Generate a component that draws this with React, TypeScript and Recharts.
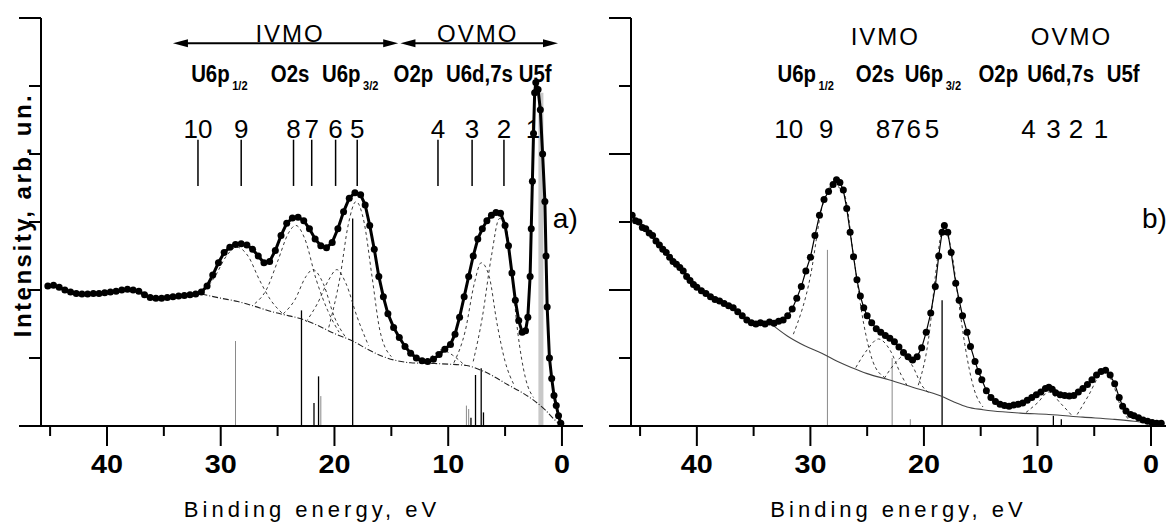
import React from 'react';
import { ComposedChart, Line, XAxis, YAxis, ReferenceLine, ReferenceDot } from 'recharts';

const FONT = '"Liberation Sans", Arial, sans-serif';

// axis ticks: binding energy (eV) and intensity (arb. un.)
const xTicks = [0, 5, 10, 15, 20, 25, 30, 35, 40, 45];
const yTicks = [0, 1, 2, 3, 4, 5, 6];

// text rows shared by both panels
const groupNames = ['IVMO', 'OVMO'];
const orbitals = [
  { main: 'U6p', sub: '1/2' },
  { main: 'O2s' },
  { main: 'U6p', sub: '3/2' },
  { main: 'O2p' },
  { main: 'U6d,7s' },
  { main: 'U5f' },
];
const peakNumbers = ['10', '9', '8', '7', '6', '5', '4', '3', '2', '1'];

// ---- panel a) ----
const groupPosA = [23.9, 7.4];
const arrowSpansA = [[34.2, 14.4], [14.2, 0.35]];
const orbitalPosA = [32.6, 25.6, 21.1, 14.8, 10.2, 3.8];
const peakPosA = [32.0, 28.2, 23.6, 22.0, 19.9, 18.0, 10.9, 7.9, 5.1, 2.55];

// [binding energy, intensity]
const spectrumA = [
  [45.2, 2.06], [44.7, 2.07], [44.2, 2.04], [43.7, 2.0], [43.2, 1.97], [42.7, 1.95],
  [42.2, 1.94], [41.7, 1.94], [41.2, 1.95], [40.7, 1.95], [40.2, 1.96], [39.7, 1.97],
  [39.2, 1.98], [38.7, 2.0], [38.2, 2.01], [37.7, 2.0], [37.2, 1.98], [36.7, 1.93],
  [36.2, 1.89], [35.7, 1.88], [35.2, 1.88], [34.7, 1.89], [34.2, 1.9], [33.7, 1.91],
  [33.2, 1.92], [32.7, 1.93], [32.2, 1.94], [31.7, 1.97], [31.2, 2.06], [30.7, 2.22],
  [30.2, 2.4], [29.7, 2.55], [29.2, 2.63], [28.7, 2.67], [28.2, 2.68], [27.7, 2.66],
  [27.2, 2.6], [26.7, 2.5], [26.2, 2.4], [25.7, 2.42], [25.2, 2.58], [24.7, 2.8],
  [24.2, 2.98], [23.7, 3.06], [23.2, 3.07], [22.7, 3.02], [22.2, 2.9], [21.7, 2.75],
  [21.2, 2.65], [20.7, 2.62], [20.2, 2.7], [19.7, 2.9], [19.2, 3.15], [18.7, 3.35],
  [18.2, 3.43], [17.7, 3.4], [17.3, 3.25], [16.9, 2.95], [16.5, 2.6], [16.1, 2.2],
  [15.7, 1.9], [15.3, 1.65], [14.8, 1.45], [14.3, 1.3], [13.8, 1.17], [13.3, 1.07],
  [12.8, 1.0], [12.3, 0.96], [11.8, 0.95], [11.3, 0.98], [10.8, 1.05], [10.3, 1.13],
  [9.8, 1.2], [9.4, 1.35], [9.0, 1.6], [8.6, 1.9], [8.2, 2.2], [7.8, 2.5], [7.4, 2.75],
  [7.0, 2.9], [6.6, 3.02], [6.2, 3.1], [5.8, 3.14], [5.4, 3.13], [5.0, 2.95], [4.7, 2.65],
  [4.4, 2.25], [4.1, 1.85], [3.8, 1.55], [3.5, 1.38], [3.2, 1.4], [3.0, 1.6], [2.8, 2.2],
  [2.7, 2.9], [2.6, 3.6], [2.5, 4.3], [2.4, 4.9], [2.3, 5.05], [2.1, 4.95], [1.9, 4.65],
  [1.7, 4.0], [1.5, 3.3], [1.4, 2.5], [1.3, 1.75], [1.1, 1.0], [0.9, 0.7], [0.7, 0.45],
  [0.5, 0.3], [0.3, 0.15], [0.1, 0.04],
];

const backgroundA = [
  [31.7, 1.94], [30.0, 1.88], [28.5, 1.83], [27.0, 1.76], [25.5, 1.68], [24.0, 1.62],
  [23.0, 1.58], [21.5, 1.48], [20.0, 1.36], [18.4, 1.25], [17.0, 1.12], [15.7, 1.02],
  [14.5, 0.96], [13.3, 0.93], [11.5, 0.92], [10.0, 0.91], [8.4, 0.89], [7.1, 0.82],
  [6.0, 0.73], [4.8, 0.61], [3.5, 0.49], [2.5, 0.38], [1.5, 0.24], [0.7, 0.1], [0.2, 0.03],
];

const fitA9 = [[31.7, 1.94], [30.5, 2.2], [29.5, 2.5], [28.6, 2.63], [27.6, 2.5], [26.6, 2.15], [25.6, 1.85], [24.6, 1.66]];
const fitA8 = [[27.0, 1.8], [26.0, 2.0], [25.0, 2.42], [24.0, 2.85], [23.4, 2.95], [22.6, 2.75], [21.6, 2.15], [20.6, 1.7], [19.6, 1.38]];
const fitA7 = [[24.5, 1.65], [23.5, 1.85], [22.5, 2.2], [21.9, 2.3], [21.0, 2.1], [20.0, 1.6], [19.0, 1.3]];
const fitA6 = [[22.5, 1.53], [21.5, 1.8], [20.5, 2.15], [19.8, 2.3], [19.0, 2.1], [18.0, 1.6], [17.0, 1.18]];
const fitA5 = [[20.5, 1.45], [19.5, 2.2], [18.8, 2.95], [18.1, 3.3], [17.4, 3.0], [16.7, 2.2], [16.0, 1.4], [15.0, 1.02]];
const fitA4 = [[12.5, 0.93], [11.5, 1.02], [10.6, 1.12], [9.6, 1.04], [8.6, 0.9]];
const fitA3 = [[9.5, 0.93], [8.5, 1.4], [7.7, 2.1], [7.1, 2.4], [6.4, 2.2], [5.7, 1.5], [5.0, 0.95], [4.2, 0.6]];
const fitA2 = [[7.8, 0.95], [7.0, 1.6], [6.2, 2.5], [5.5, 3.05], [5.0, 3.0], [4.5, 2.4], [3.9, 1.4], [3.2, 0.7], [2.5, 0.42]];
const fitsA = [fitA9, fitA8, fitA7, fitA6, fitA5, fitA4, fitA3, fitA2];

// calculated line spectrum: [energy, height]
const sticksA = [[22.9, 1.7], [21.8, 0.34], [21.4, 0.73], [18.4, 3.05], [8.0, 0.12], [7.6, 0.75], [7.1, 0.85], [6.9, 0.2]];
const greySticksA = [[28.7, 1.25], [21.2, 0.44], [8.4, 0.3], [8.2, 0.25]];
const bandA = [[1.85, 4.9]];

// ---- panel b) ----
const groupPosB = [23.4, 7.0];
const orbitalPosB = [32.9, 26.0, 21.7, 15.2, 10.9, 3.9];
const peakPosB = [31.9, 28.6, 23.6, 22.3, 20.9, 19.3, 10.8, 8.6, 6.6, 4.4];

const spectrumB = [
  [45.7, 3.1], [45.4, 3.02], [45.1, 3.0], [44.8, 2.92], [44.5, 2.9], [44.2, 2.84],
  [43.9, 2.8], [43.6, 2.72], [43.3, 2.66], [43.0, 2.6], [42.7, 2.55], [42.4, 2.48],
  [42.1, 2.42], [41.8, 2.38], [41.5, 2.33], [41.2, 2.28], [40.9, 2.2], [40.6, 2.14],
  [40.3, 2.08], [40.0, 2.04], [39.6, 1.99], [39.2, 1.95], [38.8, 1.9], [38.4, 1.86],
  [38.0, 1.84], [37.6, 1.8], [37.2, 1.77], [36.8, 1.74], [36.4, 1.68], [36.0, 1.62],
  [35.6, 1.56], [35.2, 1.52], [34.8, 1.5], [34.4, 1.52], [34.0, 1.5], [33.6, 1.53],
  [33.2, 1.51], [32.8, 1.54], [32.4, 1.56], [32.0, 1.62], [31.6, 1.72], [31.2, 1.88],
  [30.8, 2.05], [30.4, 2.28], [30.0, 2.48], [29.6, 2.8], [29.2, 3.1], [28.8, 3.33],
  [28.4, 3.45], [28.0, 3.55], [27.7, 3.62], [27.4, 3.58], [27.1, 3.47], [26.8, 3.2],
  [26.5, 2.85], [26.2, 2.49], [25.9, 2.15], [25.6, 1.91], [25.3, 1.74], [25.0, 1.62],
  [24.6, 1.52], [24.2, 1.43], [23.8, 1.38], [23.4, 1.33], [23.0, 1.29], [22.6, 1.24],
  [22.2, 1.16], [21.8, 1.08], [21.4, 1.02], [21.0, 0.97], [20.6, 1.02], [20.2, 1.15],
  [19.8, 1.38], [19.4, 1.66], [19.0, 2.05], [18.7, 2.5], [18.4, 2.85], [18.2, 2.95],
  [17.9, 2.85], [17.6, 2.55], [17.2, 2.1], [16.9, 1.85], [16.6, 1.62], [16.2, 1.38],
  [15.9, 1.17], [15.5, 0.95], [15.2, 0.8], [14.9, 0.68], [14.5, 0.52], [14.1, 0.42],
  [13.7, 0.36], [13.3, 0.32], [12.9, 0.3], [12.5, 0.29], [12.1, 0.31], [11.7, 0.32],
  [11.3, 0.34], [10.9, 0.38], [10.5, 0.42], [10.1, 0.46], [9.7, 0.5], [9.3, 0.55],
  [9.0, 0.57], [8.7, 0.54], [8.4, 0.49], [8.0, 0.46], [7.6, 0.45], [7.2, 0.44],
  [6.8, 0.45], [6.4, 0.5], [6.0, 0.55], [5.6, 0.61], [5.2, 0.68], [4.8, 0.75],
  [4.4, 0.8], [4.0, 0.82], [3.6, 0.75], [3.2, 0.62], [2.8, 0.42], [2.5, 0.29],
  [2.2, 0.22], [1.8, 0.17], [1.5, 0.15], [1.1, 0.12], [0.7, 0.09], [0.3, 0.07],
  [-0.1, 0.05], [-0.5, 0.04], [-0.9, 0.04],
];

const backgroundB = [
  [33.6, 1.52], [32.0, 1.32], [30.5, 1.18], [29.0, 1.07], [27.5, 0.94], [26.4, 0.86],
  [25.0, 0.77], [23.1, 0.68], [21.0, 0.57], [18.5, 0.44], [17.3, 0.35], [16.2, 0.28],
  [14.8, 0.24], [13.9, 0.22], [11.5, 0.19], [9.0, 0.17], [6.0, 0.13], [3.4, 0.1],
  [1.5, 0.07], [0.2, 0.04],
];

const fitB9 = [[31.5, 1.35], [30.0, 2.2], [29.0, 3.2], [28.0, 3.55], [27.0, 3.4], [26.2, 2.5], [25.3, 1.5], [24.5, 0.95], [23.5, 0.72]];
const fitB8 = [[26.0, 0.86], [25.0, 1.12], [24.0, 1.28], [23.0, 1.12], [22.0, 0.75], [21.5, 0.6]];
const fitB7 = [[23.5, 0.7], [22.5, 0.93], [21.8, 1.03], [21.0, 0.88], [20.2, 0.6], [19.5, 0.48]];
const fitB5 = [[20.5, 0.6], [19.5, 1.4], [19.0, 2.2], [18.3, 2.9], [17.6, 2.6], [17.0, 1.9], [16.4, 1.2], [15.6, 0.55], [14.8, 0.28]];
const fitB3 = [[11.0, 0.2], [10.0, 0.34], [9.0, 0.5], [8.0, 0.34], [7.0, 0.16]];
const fitB1 = [[6.5, 0.17], [5.5, 0.45], [4.5, 0.75], [4.0, 0.8], [3.3, 0.6], [2.7, 0.3], [2.0, 0.1]];
const fitsB = [fitB9, fitB8, fitB7, fitB5, fitB3, fitB1];

const sticksB = [[18.4, 1.85], [8.6, 0.15], [7.9, 0.1]];
const greySticksB = [[28.5, 2.59], [22.8, 1.0], [21.2, 0.1]];
const bandB: number[][] = [];

const toPts = (arr: number[][]) => arr.map(([e, v]) => ({ e, v }));

const LABEL_U = 5.06;
const NUM_U = 4.24;
const MARK_TOP = 4.21;
const MARK_BOT = 3.53;
const ARROW_U = 5.63;

const arrowShape = (p: any) => {
  const l = Math.min(p.x1, p.x2);
  const r = Math.max(p.x1, p.x2);
  const y = p.y1;
  return (
    <g>
      <line x1={l + 6} y1={y} x2={r - 6} y2={y} stroke="#000" strokeWidth={2} />
      <polygon points={`${l},${y} ${l + 15},${y - 4} ${l + 15},${y + 4}`} fill="#000" />
      <polygon points={`${r},${y} ${r - 15},${y - 4} ${r - 15},${y + 4}`} fill="#000" />
    </g>
  );
};

const XTick = (p: any) => {
  const v = p.payload.value;
  const major = v % 10 === 0;
  return (
    <g>
      <line x1={p.x} y1={p.y} x2={p.x} y2={p.y + (major ? 20 : 10)} stroke="#000" strokeWidth={2} />
      {major && (
        <text
          transform={`translate(${p.x},${p.y + 47}) scale(1.15,1)`}
          textAnchor="middle"
          fontFamily={FONT}
          fontSize={25}
          fontWeight="bold"
          fill="#000"
        >
          {v}
        </text>
      )}
    </g>
  );
};

const makeYTick = (isLong: (v: number) => boolean) => (p: any) => {
  const v = p.payload.value;
  const len = isLong(v) ? 22 : 12;
  return <line x1={p.x - len} y1={p.y} x2={p.x} y2={p.y} stroke="#000" strokeWidth={2} />;
};

type PanelProps = {
  domain: [number, number];
  yWidth: number;
  spectrum: number[][];
  lineWidth: number;
  background: number[][];
  bgDash: string | undefined;
  bgColor: string;
  fits: number[][][];
  sticks: number[][];
  greySticks: number[][];
  band: number[][];
  groupPos: number[];
  groupU: number;
  arrows: number[][];
  orbitalPos: number[];
  peakPos: number[];
  showMarks: boolean;
  tag: string;
  yTitle: boolean;
  longTick: (v: number) => boolean;
};

const Panel = (pp: PanelProps) => (
  <ComposedChart width={583} height={526} margin={{ top: 18, right: 0, bottom: 0, left: 0 }}>
    <XAxis
      dataKey="e"
      type="number"
      domain={pp.domain}
      allowDataOverflow
      reversed
      ticks={xTicks}
      interval={0}
      height={100}
      tickSize={0}
      tickMargin={0}
      tickLine={false}
      axisLine={{ stroke: '#000', strokeWidth: 2 }}
      tick={<XTick />}
      label={{
        content: (lp: any) => (
          <text
            x={lp.viewBox.x + lp.viewBox.width / 2}
            y={lp.viewBox.y + 91}
            textAnchor="middle"
            fontFamily={FONT}
            fontSize={22}
            letterSpacing={4}
            fill="#000"
          >
            Binding energy, eV
          </text>
        ),
      }}
    />
    <YAxis
      type="number"
      domain={[0, 6]}
      ticks={yTicks}
      interval={0}
      width={pp.yWidth}
      tickSize={0}
      tickMargin={0}
      tickLine={false}
      axisLine={{ stroke: '#000', strokeWidth: 2 }}
      tick={makeYTick(pp.longTick)}
      label={
        pp.yTitle
          ? {
              content: () => (
                <text
                  transform="translate(31,215) rotate(-90)"
                  textAnchor="middle"
                  fontFamily={FONT}
                  fontSize={24}
                  fontWeight="bold"
                  letterSpacing={2.5}
                  fill="#000"
                >
                  Intensity, arb. un.
                </text>
              ),
            }
          : undefined
      }
    />

    {pp.band.map(([e, h], i) => (
      <ReferenceLine key={`band-${i}`} segment={[{ x: e, y: 0 }, { x: e, y: h }]} stroke="#c8c8c8" strokeWidth={5} />
    ))}
    {pp.greySticks.map(([e, h], i) => (
      <ReferenceLine key={`gs-${i}`} segment={[{ x: e, y: 0 }, { x: e, y: h }]} stroke="#8a8a8a" strokeWidth={1} />
    ))}
    {pp.sticks.map(([e, h], i) => (
      <ReferenceLine key={`s-${i}`} segment={[{ x: e, y: 0 }, { x: e, y: h }]} stroke="#000" strokeWidth={1.3} />
    ))}

    <Line
      data={toPts(pp.background)}
      dataKey="v"
      type="monotone"
      stroke={pp.bgColor}
      strokeWidth={1.1}
      strokeDasharray={pp.bgDash}
      dot={false}
      isAnimationActive={false}
    />
    {pp.fits.map((f, i) => (
      <Line
        key={`fit-${i}`}
        data={toPts(f)}
        dataKey="v"
        type="monotone"
        stroke="#222"
        strokeWidth={0.9}
        strokeDasharray="3 3"
        dot={false}
        isAnimationActive={false}
      />
    ))}
    <Line
      data={toPts(pp.spectrum)}
      dataKey="v"
      type="linear"
      stroke="#000"
      strokeWidth={pp.lineWidth}
      dot={{ r: 3.5, fill: '#000', stroke: 'none' }}
      isAnimationActive={false}
    />

    {pp.arrows.map(([a, b], i) => (
      <ReferenceLine key={`ar-${i}`} segment={[{ x: a, y: ARROW_U }, { x: b, y: ARROW_U }]} shape={arrowShape} />
    ))}
    {groupNames.map((g, i) => (
      <ReferenceDot
        key={`g-${i}`}
        x={pp.groupPos[i]}
        y={pp.groupU}
        r={0}
        shape={(p: any) => (
          <text x={p.cx} y={p.cy} textAnchor="middle" fontFamily={FONT} fontSize={24} letterSpacing={2} fill="#000">
            {g}
          </text>
        )}
      />
    ))}
    {orbitals.map((o, i) => (
      <ReferenceDot
        key={`o-${i}`}
        x={pp.orbitalPos[i]}
        y={LABEL_U}
        r={0}
        shape={(p: any) => (
          <text
            transform={`translate(${p.cx},${p.cy}) scale(0.85,1)`}
            fontFamily={FONT}
            fontSize={24}
            fontWeight="bold"
            fill="#000"
          >
            {o.main}
            {o.sub && (
              <tspan fontSize={13} dx={3} dy={8}>
                {o.sub}
              </tspan>
            )}
          </text>
        )}
      />
    ))}
    {peakNumbers.map((n, i) => (
      <ReferenceDot
        key={`n-${i}`}
        x={pp.peakPos[i]}
        y={NUM_U}
        r={0}
        shape={(p: any) => (
          <text x={p.cx} y={p.cy} textAnchor="middle" fontFamily={FONT} fontSize={26} fill="#000">
            {n}
          </text>
        )}
      />
    ))}
    {pp.showMarks &&
      pp.peakPos.map((e, i) => (
        <ReferenceLine
          key={`m-${i}`}
          segment={[{ x: e, y: MARK_BOT }, { x: e, y: MARK_TOP }]}
          stroke="#000"
          strokeWidth={1.5}
        />
      ))}
    <ReferenceDot
      x={0.8}
      y={2.91}
      r={0}
      shape={(p: any) => (
        <text x={p.cx} y={p.cy} fontFamily={FONT} fontSize={28} fill="#000">
          {pp.tag}
        </text>
      )}
    />
  </ComposedChart>
);

export default function App() {
  return (
    <div style={{ position: 'absolute', left: 0, top: 0, width: 1166, height: 526, display: 'flex', background: '#fff' }}>
      <Panel
        domain={[-1.85, 45.8]}
        yWidth={41}
        spectrum={spectrumA}
        lineWidth={3}
        background={backgroundA}
        bgDash="6 2 1 2"
        bgColor="#222"
        fits={fitsA}
        sticks={sticksA}
        greySticks={greySticksA}
        band={bandA}
        groupPos={groupPosA}
        groupU={5.65}
        arrows={arrowSpansA}
        orbitalPos={orbitalPosA}
        peakPos={peakPosA}
        showMarks
        tag="a)"
        yTitle
        longTick={(v) => v === 0 || v === 6}
      />
      <Panel
        domain={[-1.32, 45.8]}
        yWidth={48}
        spectrum={spectrumB}
        lineWidth={1.2}
        background={backgroundB}
        bgDash={undefined}
        bgColor="#444"
        fits={fitsB}
        sticks={sticksB}
        greySticks={greySticksB}
        band={bandB}
        groupPos={groupPosB}
        groupU={5.6}
        arrows={[]}
        orbitalPos={orbitalPosB}
        peakPos={peakPosB}
        showMarks={false}
        tag="b)"
        yTitle={false}
        longTick={(v) => v % 2 === 0}
      />
    </div>
  );
}
